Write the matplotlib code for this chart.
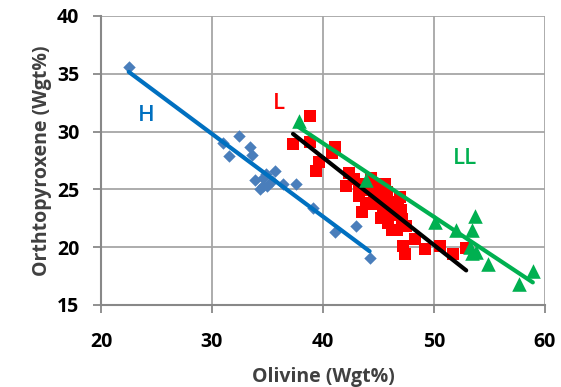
import numpy as np
import matplotlib
matplotlib.use("Agg")
import matplotlib.pyplot as plt

# H group (blue diamonds)
h_x = [22.5, 31.0, 32.4, 31.5, 33.4, 33.6, 33.9, 34.6, 34.6, 34.9, 35.4, 35.7,
       34.3, 35.0, 36.4, 37.6, 39.1, 41.1, 43.0, 44.2]
h_y = [35.6, 29.0, 29.6, 27.9, 28.7, 28.0, 25.8, 25.3, 26.0, 26.3, 25.7, 26.6,
       25.0, 25.3, 25.5, 25.5, 23.4, 21.3, 21.8, 19.1]

# L group (red squares)
l_x = [38.8, 37.3, 38.8, 39.6, 39.4, 41.1, 40.8, 42.3, 42.1, 43.2, 43.2, 43.5,
       43.9, 44.8, 45.6, 45.3, 45.4, 45.9, 46.2, 46.8, 46.9, 47.1, 46.7, 47.2,
       47.4, 48.3, 49.2, 50.5, 51.7, 52.9, 44.3, 44.6, 45.0, 46.0, 46.5, 47.5,
       44.0, 45.8, 42.8, 43.6, 46.3, 47.0, 45.2, 44.5]
l_y = [31.3, 28.9, 29.1, 27.4, 26.6, 28.7, 28.1, 26.4, 25.3, 25.5, 24.4, 23.0,
       23.8, 25.5, 25.5, 24.1, 23.0, 22.1, 21.5, 23.5, 24.3, 22.4, 21.5, 20.1,
       19.4, 20.7, 19.8, 20.1, 19.4, 19.9, 26.0, 24.8, 24.6, 23.0, 22.8, 21.8,
       24.9, 24.8, 25.9, 25.1, 23.9, 23.2, 22.5, 23.7]

# LL group (green triangles)
ll_x = [37.8, 43.9, 50.1, 52.0, 53.7, 53.4, 53.4, 53.8, 53.2, 54.9, 57.7, 58.9]
ll_y = [30.9, 25.8, 22.2, 21.5, 22.7, 21.5, 19.5, 19.6, 20.0, 18.5, 16.8, 17.9]

labels = ["H", "L", "LL"]
label_x = [24.1, 36.0, 52.8]
label_y = [31.4, 32.4, 27.7]

fig = plt.figure(figsize=(5.61, 3.87), dpi=100)
ax = fig.add_axes([0.18, 0.212, 0.7915, 0.747])

font = "Open Sans"
grid_c = "#a6a6a6"

def trend(xs, ys, color):
    xs = np.asarray(xs); ys = np.asarray(ys)
    m, b = np.polyfit(xs, ys, 1)
    xx = np.array([xs.min(), xs.max()])
    ax.plot(xx, m * xx + b, color=color, lw=3, zorder=3, solid_capstyle="round")

ax.scatter(h_x, h_y, marker="D", s=40, color="#4a7ebb", zorder=2, linewidths=0)
ax.scatter(l_x, l_y, marker="s", s=70, color="#ff0000", zorder=2, linewidths=0)
ax.scatter(ll_x, ll_y, marker="^", s=110, color="#00b050", zorder=4, linewidths=0)

trend(h_x, h_y, "#0070c0")
trend(l_x, l_y, "#000000")
trend(ll_x, ll_y, "#00b050")

colors = ["#0070c0", "#ff0000", "#00b050"]
for t, x, y, c in zip(labels, label_x, label_y, colors):
    ax.text(x, y, t, color=c, fontsize=16, family=font, fontweight="semibold",
            ha="center", va="center")

ax.set_xlim(20, 60)
ax.set_ylim(15, 40)
ax.set_xticks([20, 30, 40, 50, 60])
ax.set_yticks([15, 20, 25, 30, 35, 40])
ax.grid(True, color=grid_c, lw=1.3)
ax.set_axisbelow(True)
for s in ["top", "right"]:
    ax.spines[s].set_visible(False)
for s in ["left", "bottom"]:
    ax.spines[s].set_color("#888888")
    ax.spines[s].set_linewidth(1.5)
ax.tick_params(axis="both", colors="#888888", length=5.5, width=1.3,
               labelcolor="black", labelsize=14)
ax.tick_params(axis="x", pad=14)
ax.tick_params(axis="y", pad=10)
for lab in ax.get_xticklabels() + ax.get_yticklabels():
    lab.set_family(font)
    lab.set_fontweight("bold")

ax.set_xlabel("Olivine (Wgt%)", family=font, fontweight="bold", fontsize=14, color="#404040", labelpad=11)
ax.set_ylabel("Orthtopyroxene (Wgt%)", family=font, fontweight="bold", fontsize=14, color="#404040", labelpad=4)

fig.savefig("out.png", dpi=100)
